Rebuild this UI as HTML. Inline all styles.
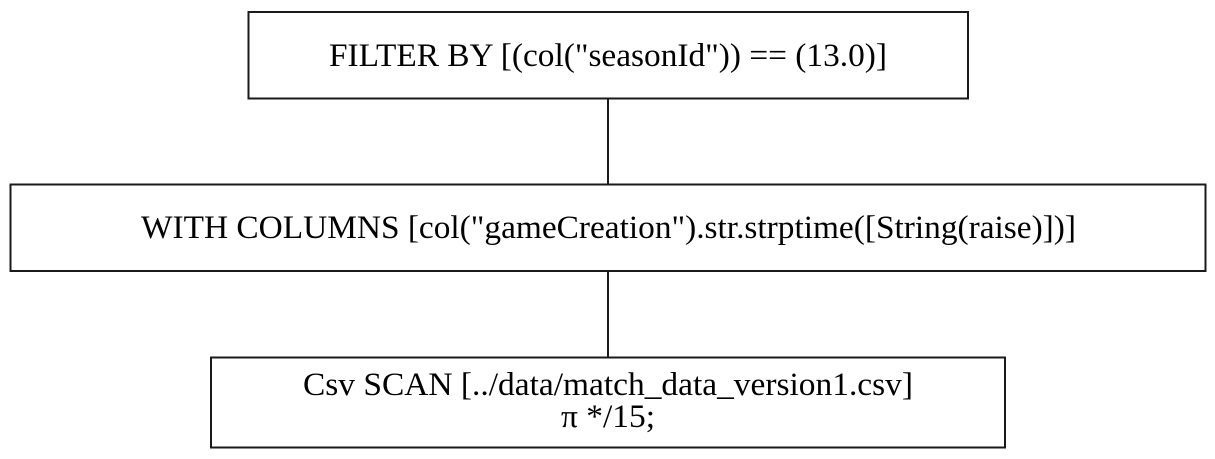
<!DOCTYPE html>
<html><head><meta charset="utf-8"><style>html,body{margin:0;padding:0;background:#fff;}svg{display:block;}
text{font-family:"Liberation Serif",serif;font-size:33px;fill:#000;}</style></head>
<body>
<svg width="1215" height="459" xmlns="http://www.w3.org/2000/svg">
<g fill="#fff" stroke="#1a1a1a" stroke-width="2">
<rect x="248.5" y="12" width="719.5" height="86.5"/>
<rect x="10.5" y="184.5" width="1195" height="86.5"/>
<rect x="211" y="357.5" width="794" height="90"/>
</g>
<g stroke="#1a1a1a" stroke-width="2">
<line x1="608" y1="98.5" x2="608" y2="184.5"/>
<line x1="608" y1="271" x2="608" y2="357.5"/>
</g>
<text x="329" y="66" textLength="558" lengthAdjust="spacingAndGlyphs">FILTER BY [(col("seasonId")) == (13.0)]</text>
<text x="141" y="238" textLength="935" lengthAdjust="spacingAndGlyphs">WITH COLUMNS [col("gameCreation").str.strptime([String(raise)])]</text>
<text x="303" y="395" textLength="610" lengthAdjust="spacingAndGlyphs">Csv SCAN [../data/match_data_version1.csv]</text>
<text x="561" y="427" textLength="94" lengthAdjust="spacingAndGlyphs">π */15;</text>
</svg>
</body></html>
